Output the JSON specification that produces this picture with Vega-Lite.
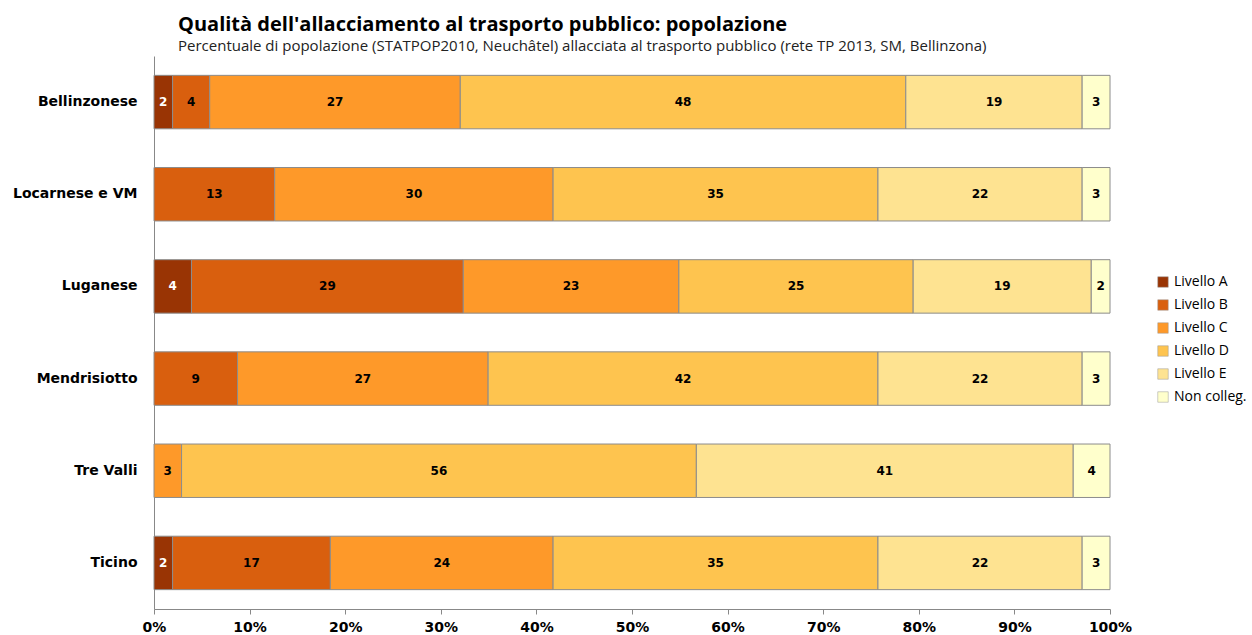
{
  "$schema": "https://vega.github.io/schema/vega-lite/v6.json",
  "autosize": "none",
  "width": 956,
  "height": 553,
  "padding": {"left": 154, "top": 56, "right": 142, "bottom": 26},
  "background": "white",
  "config": {"view": {"stroke": null}},
  "title": {
    "text": "Qualità dell'allacciamento al trasporto pubblico: popolazione",
    "subtitle": "Percentuale di popolazione (STATPOP2010, Neuchâtel) allacciata al trasporto pubblico (rete TP 2013, SM, Bellinzona)",
    "anchor": "start",
    "frame": "group",
    "dx": 24,
    "offset": 2,
    "font": "Open Sans",
    "fontSize": 20,
    "fontWeight": "bold",
    "color": "#000000",
    "subtitleFont": "Open Sans",
    "subtitleFontSize": 15,
    "subtitleColor": "#222222",
    "subtitlePadding": 4
  },
  "data": {
    "values": [
      {"regione": "Bellinzonese", "livello": "Livello A", "ord": 1, "v": 2},
      {"regione": "Bellinzonese", "livello": "Livello B", "ord": 2, "v": 4},
      {"regione": "Bellinzonese", "livello": "Livello C", "ord": 3, "v": 27},
      {"regione": "Bellinzonese", "livello": "Livello D", "ord": 4, "v": 48},
      {"regione": "Bellinzonese", "livello": "Livello E", "ord": 5, "v": 19},
      {"regione": "Bellinzonese", "livello": "Non colleg.", "ord": 6, "v": 3},
      {"regione": "Locarnese e VM", "livello": "Livello B", "ord": 2, "v": 13},
      {"regione": "Locarnese e VM", "livello": "Livello C", "ord": 3, "v": 30},
      {"regione": "Locarnese e VM", "livello": "Livello D", "ord": 4, "v": 35},
      {"regione": "Locarnese e VM", "livello": "Livello E", "ord": 5, "v": 22},
      {"regione": "Locarnese e VM", "livello": "Non colleg.", "ord": 6, "v": 3},
      {"regione": "Luganese", "livello": "Livello A", "ord": 1, "v": 4},
      {"regione": "Luganese", "livello": "Livello B", "ord": 2, "v": 29},
      {"regione": "Luganese", "livello": "Livello C", "ord": 3, "v": 23},
      {"regione": "Luganese", "livello": "Livello D", "ord": 4, "v": 25},
      {"regione": "Luganese", "livello": "Livello E", "ord": 5, "v": 19},
      {"regione": "Luganese", "livello": "Non colleg.", "ord": 6, "v": 2},
      {"regione": "Mendrisiotto", "livello": "Livello B", "ord": 2, "v": 9},
      {"regione": "Mendrisiotto", "livello": "Livello C", "ord": 3, "v": 27},
      {"regione": "Mendrisiotto", "livello": "Livello D", "ord": 4, "v": 42},
      {"regione": "Mendrisiotto", "livello": "Livello E", "ord": 5, "v": 22},
      {"regione": "Mendrisiotto", "livello": "Non colleg.", "ord": 6, "v": 3},
      {"regione": "Tre Valli", "livello": "Livello C", "ord": 3, "v": 3},
      {"regione": "Tre Valli", "livello": "Livello D", "ord": 4, "v": 56},
      {"regione": "Tre Valli", "livello": "Livello E", "ord": 5, "v": 41},
      {"regione": "Tre Valli", "livello": "Non colleg.", "ord": 6, "v": 4},
      {"regione": "Ticino", "livello": "Livello A", "ord": 1, "v": 2},
      {"regione": "Ticino", "livello": "Livello B", "ord": 2, "v": 17},
      {"regione": "Ticino", "livello": "Livello C", "ord": 3, "v": 24},
      {"regione": "Ticino", "livello": "Livello D", "ord": 4, "v": 35},
      {"regione": "Ticino", "livello": "Livello E", "ord": 5, "v": 22},
      {"regione": "Ticino", "livello": "Non colleg.", "ord": 6, "v": 3}
    ]
  },
  "transform": [
    {"stack": "v", "groupby": ["regione"], "sort": [{"field": "ord", "order": "ascending"}], "offset": "normalize", "as": ["x0", "x1"]},
    {"calculate": "(datum.x0 + datum.x1) / 2", "as": "xm"}
  ],
  "encoding": {
    "y": {
      "field": "regione",
      "type": "nominal",
      "sort": ["Bellinzonese", "Locarnese e VM", "Luganese", "Mendrisiotto", "Tre Valli", "Ticino"],
      "scale": {"paddingInner": 0.42, "paddingOuter": 0.21},
      "axis": {
        "title": null,
        "ticks": false,
        "domainColor": "#888888",
        "labelFont": "DejaVu Sans",
        "labelFontWeight": "bold",
        "labelFontSize": 14,
        "labelColor": "#000000",
        "labelPadding": 17
      }
    }
  },
  "layer": [
    {
      "mark": {"type": "bar", "stroke": "#8c8c8c", "strokeWidth": 1},
      "encoding": {
        "x": {
          "field": "x0",
          "type": "quantitative",
          "scale": {"domain": [0, 1], "nice": false},
          "axis": {
            "title": null,
            "format": ".0%",
            "values": [0, 0.1, 0.2, 0.3, 0.4, 0.5, 0.6, 0.7, 0.8, 0.9, 1],
            "grid": false,
            "domainColor": "#888888",
            "tickColor": "#888888",
            "tickSize": 5,
            "labelPadding": 6,
            "labelFont": "DejaVu Sans",
            "labelFontWeight": "bold",
            "labelFontSize": 14,
            "labelColor": "#000000",
            "labelFlush": false
          }
        },
        "x2": {"field": "x1"},
        "color": {
          "field": "livello",
          "type": "nominal",
          "scale": {
            "domain": ["Livello A", "Livello B", "Livello C", "Livello D", "Livello E", "Non colleg."],
            "range": ["#993404", "#d95f0e", "#fe9929", "#fec44f", "#fee391", "#ffffcc"]
          },
          "legend": {
            "title": null,
            "orient": "none",
            "legendX": 1002,
            "legendY": 219,
            "symbolType": "square",
            "symbolSize": 110,
            "symbolStrokeColor": "#999999",
            "symbolStrokeWidth": 0.5,
            "rowPadding": 9,
            "labelFont": "Open Sans",
            "labelFontSize": 14,
            "labelColor": "#000000",
            "labelOffset": 4
          }
        }
      }
    },
    {
      "mark": {"type": "text", "font": "DejaVu Sans", "fontWeight": "bold", "fontSize": 12, "baseline": "middle", "align": "center"},
      "encoding": {
        "x": {"field": "xm", "type": "quantitative"},
        "text": {"field": "v", "type": "quantitative"},
        "color": {
          "condition": {"test": "datum.livello === 'Livello A'", "value": "#ffffff"},
          "value": "#000000"
        }
      }
    }
  ]
}
